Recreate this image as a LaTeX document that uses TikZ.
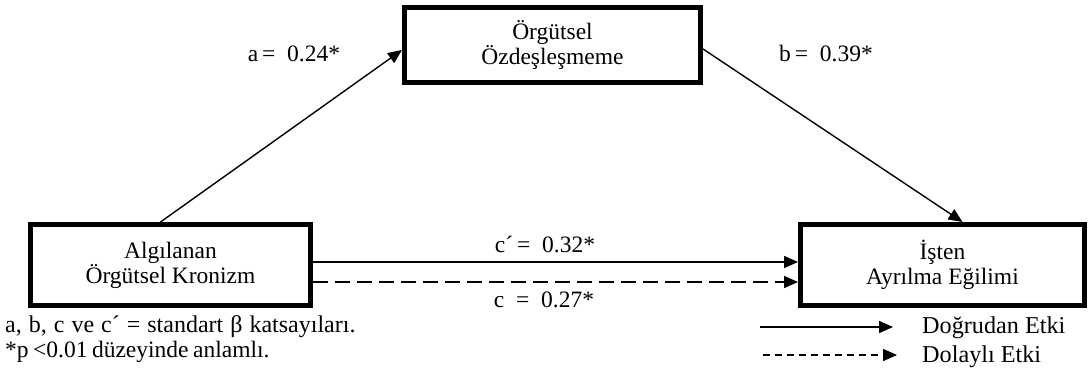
\documentclass[tikz,border=0pt]{standalone}
\usepackage{fontspec}
\setmainfont{Liberation Serif}
\usetikzlibrary{arrows.meta}
\newcommand\widesp{\spaceskip=7pt\relax}
\newcommand\narrowsp{\spaceskip=4.5pt\relax}
\tikzset{
    varbox/.style={draw, line width=5pt, align=center, inner sep=0pt},
    path/.style={line width=1.4pt, -{Triangle[length=14pt,width=12pt]}},
    lbl/.style={inner sep=0pt, anchor=base}
}
\begin{document}
\begin{tikzpicture}[x=1pt, y=-1pt, font=\fontsize{23.5}{25}\selectfont]
            \useasboundingbox (0, 0) rectangle (1089, 374);
            \node[varbox, minimum width=280pt, minimum height=81pt] (krn) at (170.5, 265) {Algılanan\\Örgütsel Kronizm};
            \node[varbox, minimum width=296pt, minimum height=75pt] (ozd) at (552.5, 45) {Örgütsel\\Özdeşleşmeme};
            \node[varbox, minimum width=284pt, minimum height=81pt] (ist) at (942.5, 265) {İşten\\Ayrılma Eğilimi};
            \draw[path] ([xshift=-10pt]krn.north) -- ([yshift=-5pt]ozd.west);
            \draw[path] ([yshift=-4pt]ozd.east) -- ([xshift=20pt]ist.north);
            \draw[path] ([yshift=3pt]krn.east) -- ([yshift=3pt]ist.west);
            \draw[path, dash pattern=on 15pt off 7pt] ([yshift=-17pt]krn.east) -- ([yshift=-17pt]ist.west);
            \node[lbl] (la) at (294, 62) {a\,= \ 0.24*};
            \node[lbl] (lb) at (826, 62) {b\,= \ 0.39*};
            \node[lbl] (lc1) at (545, 252) {c´\,= \ 0.32*};
            \node[lbl] (lc) at (544, 307) {c \ = \ 0.27*};
            \node[lbl, anchor=base west, font=\fontsize{24}{25}\selectfont] (note1) at (5, 332) {\widesp a, b, c ve c´ = standart β katsayıları.};
            \node[lbl, anchor=base west] (note2) at (5, 357) {\narrowsp *p <0.01 düzeyinde anlamlı.};
            \coordinate (d1) at (760, 327);
            \coordinate (d2) at (893, 327);
            \coordinate (e1) at (763, 355);
            \coordinate (e2) at (897, 355);
            \draw[path] (d1) -- (d2);
            \draw[path, dash pattern=on 7pt off 5pt] (e1) -- (e2);
            \node[lbl, anchor=base west, font=\fontsize{24.2}{25}\selectfont] (ldir) at (922, 333) {Doğrudan Etki};
            \node[lbl, anchor=base west, font=\fontsize{24.2}{25}\selectfont] (lind) at (922, 362) {Dolaylı Etki};
        \end{tikzpicture}
\end{document}
